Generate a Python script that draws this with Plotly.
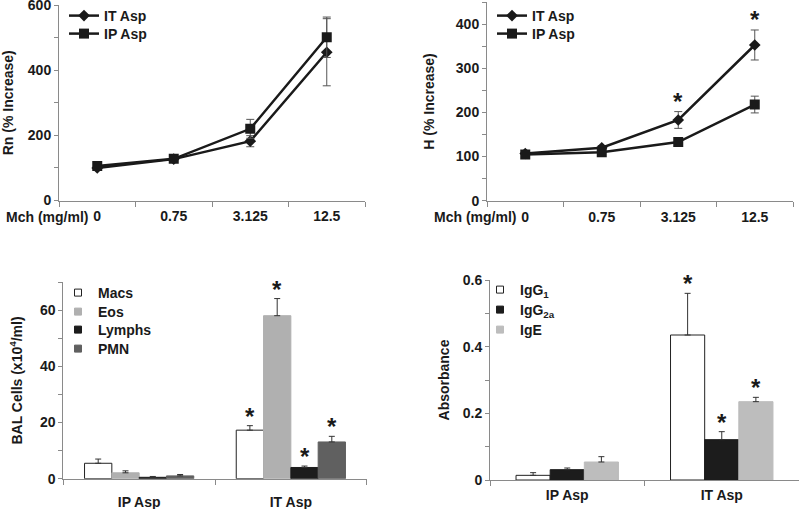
import plotly.graph_objects as go

W, H = 799, 509

# ---------------- data ----------------
doses = ["0", "0.75", "3.125", "12.5"]
rn_it = [100, 127, 182, 455]
rn_it_err = [6, 5, 17, 103]
rn_ip = [106, 128, 220, 501]
rn_ip_err = [5, 5, 29, 62]

h_it = [107, 120, 183, 353]
h_it_err = [4, 5, 19, 34]
h_ip = [105, 110, 133, 218]
h_ip_err = [3, 3, 5, 19]
h_star_idx = [2, 3]

groups = ["IP Asp", "IT Asp"]
cell_names = ["Macs", "Eos", "Lymphs", "PMN"]
macs = [5.5, 17.3]
macs_err = [1.5, 1.6]
eos = [2.1, 58.1]
eos_err = [0.7, 6.1]
lymphs = [0.5, 4.0]
lymphs_err = [0.3, 0.5]
pmn = [1.0, 13.1]
pmn_err = [0.5, 2.0]
cell_star_group = 1

ig_names = ["IgG<sub>1</sub>", "IgG<sub>2a</sub>", "IgE"]
igg1 = [0.014, 0.435]
igg1_err = [0.008, 0.125]
igg2a = [0.031, 0.121]
igg2a_err = [0.005, 0.024]
ige = [0.054, 0.235]
ige_err = [0.016, 0.013]
ig_star_group = 1

# ---------------- style ----------------
FONT = "Liberation Sans, Arial, sans-serif"
TXT = "#1a1a1a"
AX = "#8a8a8a"
LINE = "#1a1a1a"


def px_x(p):
    return p / W


def px_y(p):
    return 1 - p / H


fig = go.Figure()
legend_layouts = {}
leg_counter = [0]


def new_legend(x, y):
    leg_counter[0] += 1
    name = "legend" if leg_counter[0] == 1 else f"legend{leg_counter[0]}"
    legend_layouts[name] = dict(
        x=px_x(x), y=px_y(y), xanchor="left", yanchor="middle",
        bgcolor="rgba(0,0,0,0)", borderwidth=0,
        font=dict(family=FONT, size=14, color=TXT, weight="bold"),
        itemwidth=30, tracegroupgap=0,
    )
    return name


# ---- top panels (lines) ----
def add_lines(xa, ya, it, it_err, ip, ip_err, leg_x, leg_y):
    fig.add_trace(go.Scatter(
        x=doses, y=it, name="IT Asp", mode="lines+markers",
        line=dict(color=LINE, width=2.5),
        marker=dict(symbol="diamond", size=9, color=LINE),
        error_y=dict(type="data", array=it_err, color="#555", thickness=1, width=4),
        xaxis=xa, yaxis=ya, legend=new_legend(leg_x, leg_y[0]),
    ))
    fig.add_trace(go.Scatter(
        x=doses, y=ip, name="IP Asp", mode="lines+markers",
        line=dict(color=LINE, width=2.5),
        marker=dict(symbol="square", size=10, color=LINE),
        error_y=dict(type="data", array=ip_err, color="#555", thickness=1, width=4),
        xaxis=xa, yaxis=ya, legend=new_legend(leg_x, leg_y[1]),
    ))


add_lines("x", "y", rn_it, rn_it_err, rn_ip, rn_ip_err, 64, (16, 34))
add_lines("x2", "y2", h_it, h_it_err, h_ip, h_ip_err, 492, (16, 34))

annotations = []
for i in h_star_idx:
    annotations.append(dict(
        x=i, y=h_it[i] + h_it_err[i], xref="x2", yref="y2",
        text="*", showarrow=False, yanchor="bottom", yshift=-5,
        font=dict(family=FONT, size=24, color=TXT, weight="bold"),
    ))


# ---- bottom panels (bars) ----
def add_bars(xa, ya, series, errs, names, colors, gap, leg_x, leg_ys, star_group):
    n = len(series)
    gw = 1 - gap
    w = gw / n
    for i, (vals, err, nm, col) in enumerate(zip(series, errs, names, colors)):
        off = -gw / 2 + i * w
        outline = "#222" if col == "white" else col
        fig.add_trace(go.Bar(
            x=groups, y=vals, width=w, offset=off,
            marker=dict(color=col, line=dict(color=outline, width=1)),
            error_y=dict(type="data", array=err, arrayminus=[0] * len(err),
                         symmetric=False, color="#333", thickness=1, width=3),
            xaxis=xa, yaxis=ya, showlegend=False, name=nm,
        ))
        fig.add_trace(go.Scatter(
            x=[None], y=[None], mode="markers", name=nm,
            marker=dict(symbol="square", size=7, color=col,
                        line=dict(color=outline, width=1)),
            xaxis=xa, yaxis=ya, legend=new_legend(leg_x, leg_ys[i]),
        ))
        annotations.append(dict(
            x=star_group + off + w / 2, y=vals[star_group] + err[star_group],
            xref=xa, yref=ya, text="*", showarrow=False, yanchor="bottom",
            yshift=-6, font=dict(family=FONT, size=24, color=TXT, weight="bold"),
        ))


add_bars("x3", "y3", [macs, eos, lymphs, pmn],
         [macs_err, eos_err, lymphs_err, pmn_err], cell_names,
         ["white", "#b0b0b0", "#1c1c1c", "#606060"], 0.28,
         58, (293, 312, 330, 349), cell_star_group)
add_bars("x4", "y4", [igg1, igg2a, ige], [igg1_err, igg2a_err, ige_err],
         ig_names, ["white", "#1c1c1c", "#bdbdbd"], 0.337,
         480, (290, 310, 330), ig_star_group)

# x-axis prefix labels
for xr in (90, 518):
    annotations.append(dict(
        x=px_x(xr), y=px_y(217), xref="paper", yref="paper", text="Mch (mg/ml)",
        showarrow=False, xanchor="right", yanchor="middle",
        font=dict(family=FONT, size=14, color=TXT, weight="bold"),
    ))

tickfont = dict(family=FONT, size=14, color=TXT, weight="bold")
titlefont = dict(family=FONT, size=14, color=TXT, weight="bold")


def xax(x0, x1, y, n, standoff):
    return dict(
        domain=[px_x(x0), px_x(x1)], range=[-0.5, n - 0.5], type="category",
        showline=True, linecolor=AX, linewidth=1, ticks="outside", ticklen=5,
        tickcolor=AX, tickson="boundaries", showgrid=False, zeroline=False,
        tickfont=tickfont, ticklabelstandoff=standoff, fixedrange=True,
        anchor=y, automargin=False, ticklabeloverflow="allow",
    )


def yax(y0, y1, rng, dtick, mdtick, title, standoff, anchor):
    return dict(
        domain=[px_y(y0), px_y(y1)], range=rng, dtick=dtick, tick0=0,
        showline=True, linecolor=AX, linewidth=1, ticks="outside", ticklen=4,
        tickcolor=AX, showgrid=False, zeroline=False, tickfont=tickfont,
        minor=dict(ticks="outside", ticklen=4, dtick=mdtick, tick0=0,
                   tickcolor=AX, showgrid=False),
        title=dict(text=title, font=titlefont, standoff=standoff),
        anchor=anchor, fixedrange=True, automargin=False,
        ticklabeloverflow="allow",
    )


fig.update_layout(
    width=W, height=H,
    margin=dict(l=0, r=0, t=0, b=0, pad=0, autoexpand=False),
    paper_bgcolor="white", plot_bgcolor="white", showlegend=True,
    xaxis=xax(59, 365, "y", 4, 3),
    yaxis=yax(200.5, 5, [0, 600], 200, 100, "Rn (% Increase)", 16, "x"),
    xaxis2=xax(487, 793, "y2", 4, 3),
    yaxis2=yax(200.7, 2.2, [0, 450], 100, 50, "H (% Increase)", 17, "x2"),
    xaxis3=xax(63.3, 366.7, "y3", 2, 10),
    yaxis3=yax(478.7, 282.3, [0, 70], 20, 10, "BAL Cells (x10<sup>4</sup>/ml)", 14, "x3"),
    xaxis4=xax(490, 799, "y4", 2, 2),
    yaxis4=yax(480, 280, [0, 0.6], 0.2, 0.1, "Absorbance", 9, "x4"),
    annotations=annotations,
    **legend_layouts,
)

fig.write_html(
    "out.html",
    config={"displayModeBar": False},
    post_script="document.body.style.margin='0';document.body.style.padding='0';",
)
